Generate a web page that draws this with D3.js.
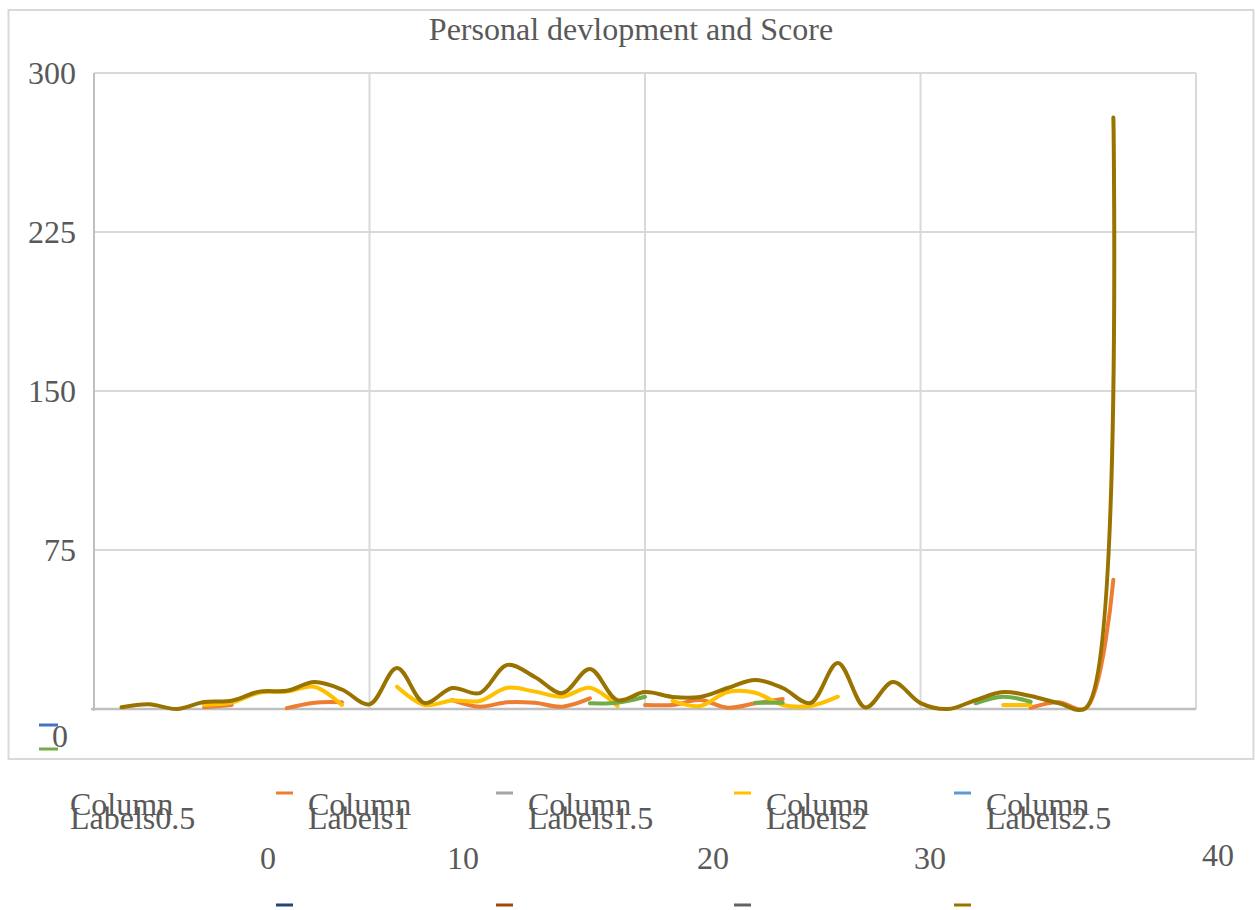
<!DOCTYPE html>
<html>
<head>
<meta charset="utf-8">
<script src="https://cdn.jsdelivr.net/npm/d3@7"></script>
<style>
  body { margin: 0; background: #fff; }
  text { font-family: "Liberation Serif", "Times New Roman", serif; fill: #595959; }
</style>
</head>
<body>
<div id="chart"></div>
<script>
// x positions 1..37, null = gap in the series
var xs = d3.range(1, 38);

var orange = [null, null, null, 0.8, 1.9, null, 0.4, 3.0, 3.2, null,
  null, null, 4.2, 1.1, 3.2, 2.9, 1.1, 5.0, null, 1.9,
  1.9, 4.2, 0.6, 2.7, 4.7, null, null, null, null, null,
  null, null, null, 0.6, 3.2, 0.3, 61];

var yellow = [null, null, null, 1.9, 3.0, 7.7, 8.2, 10.5, 1.9, null,
  10.5, 1.9, 4.0, 3.8, 10, 8.2, 5.8, 10, 1.4, null,
  3.8, 1.4, 8.0, 7.7, 1.9, 1.4, 5.8, null, null, null,
  null, null, 1.9, 1.9, null, null, null];

var green = [null, null, null, null, null, null, null, null, null, null,
  null, null, null, null, null, null, null, 2.7, 3.0, 5.8,
  null, null, null, 3.0, 3.0, null, null, null, null, null,
  null, 2.7, 5.8, 3.4, null, null, null];

var gold = [0.8, 2.2, 0, 3.3, 3.9, 8.2, 8.6, 12.7, 9.2, 2.2,
  19.3, 2.8, 9.9, 7.5, 20.8, 15.1, 7.5, 18.9, 4.2, 8.0,
  5.7, 5.7, 9.9, 13.7, 9.9, 2.8, 21.7, 0.7, 12.7, 2.8,
  0, 4.2, 8.0, 6.1, 2.8, 0.5, 279];

var yTicks = [75, 150, 225, 300];
var xTickLabels = ["0", "10", "20", "30", "40"];
var legendRow1 = ["Labels0.5", "Labels1", "Labels1.5", "Labels2", "Labels2.5"];
var legendRow1Colors = ["#4472C4", "#ED7D31", "#A5A5A5", "#FFC000", "#5B9BD5"];
var legendRow2Colors = ["#70AD47", "#264478", "#9E480E", "#636363", "#997300"];

var series = [
  {name: "Column Labels1", color: "#ED7D31", values: orange},
  {name: "Column Labels2", color: "#FFC000", values: yellow},
  {name: "Column Labels3", color: "#70AD47", values: green},
  {name: "Column Labels5", color: "#997300", values: gold}
];

var W = 1255, H = 910;
var svg = d3.select("#chart").append("svg").attr("width", W).attr("height", H);

// chart border
svg.append("rect").attr("x", 8.5).attr("y", 10).attr("width", 1245).attr("height", 749)
  .attr("fill", "none").attr("stroke", "#D9D9D9").attr("stroke-width", 2);

svg.append("text").attr("x", 631).attr("y", 40).attr("text-anchor", "middle")
  .style("font-size", "32px").text("Personal devlopment and Score");

var x = d3.scaleLinear().domain([0, 40]).range([94, 1196]);
var y = d3.scaleLinear().domain([0, 300]).range([709, 73]);

// gridlines
svg.append("g").selectAll("line.h").data(yTicks).enter().append("line")
  .attr("x1", x(0)).attr("x2", x(40))
  .attr("y1", function(d) { return y(d); }).attr("y2", function(d) { return y(d); })
  .attr("stroke", "#D9D9D9").attr("stroke-width", 2);

svg.append("g").selectAll("line.v").data([10, 20, 30, 40]).enter().append("line")
  .attr("x1", function(d) { return x(d); }).attr("x2", function(d) { return x(d); })
  .attr("y1", y(300)).attr("y2", y(0))
  .attr("stroke", "#D9D9D9").attr("stroke-width", 2);

// axes lines
svg.append("line").attr("x1", x(0)).attr("x2", x(0)).attr("y1", y(300)).attr("y2", y(0) + 2)
  .attr("stroke", "#BFBFBF").attr("stroke-width", 2);
svg.append("line").attr("x1", x(0) - 3).attr("x2", x(40)).attr("y1", y(0)).attr("y2", y(0))
  .attr("stroke", "#BFBFBF").attr("stroke-width", 2.5);

svg.append("g").selectAll("text").data(yTicks).enter().append("text")
  .attr("x", 76).attr("y", function(d) { return y(d) + 11; })
  .attr("text-anchor", "end").style("font-size", "32px")
  .text(function(d) { return d; });

// the stray zero label with its two markers
svg.append("text").attr("x", 52).attr("y", 747).style("font-size", "32px").text("0");
svg.append("line").attr("x1", 39).attr("x2", 58).attr("y1", 725).attr("y2", 725)
  .attr("stroke", legendRow1Colors[0]).attr("stroke-width", 3);
svg.append("line").attr("x1", 39).attr("x2", 58).attr("y1", 749).attr("y2", 749)
  .attr("stroke", legendRow2Colors[0]).attr("stroke-width", 3);

// lines
var line = d3.line()
  .defined(function(d) { return d != null; })
  .x(function(d, i) { return x(xs[i]); })
  .y(function(d) { return y(d); })
  .curve(d3.curveCatmullRom);

svg.append("g").selectAll("path").data(series).enter().append("path")
  .attr("d", function(d) { return line(d.values); })
  .attr("fill", "none")
  .attr("stroke", function(d) { return d.color; })
  .attr("stroke-width", 4)
  .attr("stroke-linejoin", "round")
  .attr("stroke-linecap", "round");

// x labels below the legend
var xLabelPos = [268, 463, 713, 930, 1218];
svg.append("g").selectAll("text").data(xTickLabels).enter().append("text")
  .attr("x", function(d, i) { return xLabelPos[i]; })
  .attr("y", function(d, i) { return i == 4 ? 866 : 869; })
  .attr("text-anchor", "middle").style("font-size", "32px")
  .text(function(d) { return d; });

// legend
var markX = [38, 276, 496, 734, 954];
var leg = svg.append("g").selectAll("g").data(legendRow1).enter().append("g");
leg.filter(function(d, i) { return i > 0; }).append("line")
  .attr("x1", function(d, i) { return markX[i + 1]; })
  .attr("x2", function(d, i) { return markX[i + 1] + 17; })
  .attr("y1", 793).attr("y2", 793)
  .attr("stroke", function(d, i) { return legendRow1Colors[i + 1]; })
  .attr("stroke-width", 3);
leg.append("text")
  .attr("x", function(d, i) { return markX[i] + 32; })
  .attr("y", 815).style("font-size", "32px").text("Column");
leg.append("text")
  .attr("x", function(d, i) { return markX[i] + 32; })
  .attr("y", 829).style("font-size", "32px").text(function(d) { return d; });

svg.append("g").selectAll("line").data(legendRow2Colors.slice(1)).enter().append("line")
  .attr("x1", function(d, i) { return markX[i + 1]; })
  .attr("x2", function(d, i) { return markX[i + 1] + 17; })
  .attr("y1", 905).attr("y2", 905)
  .attr("stroke", function(d) { return d; })
  .attr("stroke-width", 3);
</script>
</body>
</html>
